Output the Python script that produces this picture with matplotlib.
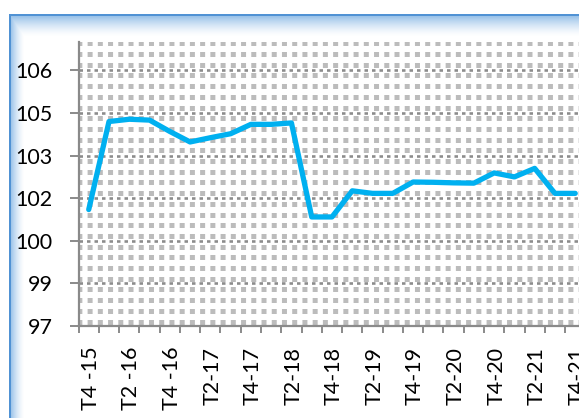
import numpy as np
import matplotlib
matplotlib.use('Agg')
import matplotlib.pyplot as plt
import matplotlib.transforms as mtransforms

# quarterly index values
categories = ['T4 -15', 'T1 -16', 'T2 -16', 'T3 -16', 'T4 -16', 'T1-17', 'T2-17',
              'T3-17', 'T4-17', 'T1-18', 'T2-18', 'T3-18', 'T4-18', 'T1-19',
              'T2-19', 'T3-19', 'T4-19', 'T1-20', 'T2-20', 'T3-20', 'T4-20',
              'T1-21', 'T2-21', 'T3-21', 'T4-21']
values = [101.1, 104.2, 104.28, 104.25, 103.85, 103.48, 103.63, 103.77, 104.1,
          104.1, 104.15, 100.84, 100.84, 101.76, 101.67, 101.67, 102.07, 102.06,
          102.04, 102.03, 102.39, 102.25, 102.55, 101.67, 101.67]
yticks = [97, 98.5, 100, 101.5, 103, 104.5, 106]
ytick_labels = ['97', '99', '100', '102', '103', '105', '106']

plt.rcParams['font.family'] = ['Lato', 'DejaVu Sans']
plt.rcParams['lines.scale_dashes'] = False

W, H = 579, 418
fig = plt.figure(figsize=(W / 100, H / 100), dpi=100)

# background frame with blue border and soft inner glow
bg = fig.add_axes([0, 0, 1, 1])
bg.axis('off')
xx, yy = np.meshgrid(np.arange(W), np.arange(H))
dx = (xx - 9).astype(float)
dy = (yy - 14).astype(float)
g = np.maximum(np.clip(1 - dx / 15, 0, 1), np.clip(1 - dy / 22, 0, 1)) ** 1.5
glow = np.array([140, 186, 230]) / 255.0
img = np.ones((H, W, 3)) * (1 - g[..., None]) + glow * g[..., None]
outside = (dx < 0) | (dy < 0)
img[outside] = 1.0
edge = ((dx >= 0) & (dx < 2) & (dy >= 0)) | ((dy >= 0) & (dy < 2) & (dx >= 0))
img[edge] = np.array([80, 146, 212]) / 255.0
bg.imshow(img, extent=(0, W, H, 0), aspect='auto', interpolation='nearest')
bg.set_xlim(0, W)
bg.set_ylim(H, 0)

# plot area (runs past the right edge, like the cropped original)
left, top, bottom = 78.6, 42, 326
cat_w = 20.27
ax_w = cat_w * len(categories)
ax = fig.add_axes([left / W, (H - bottom) / H, ax_w / W, (bottom - top) / H])
ax.set_facecolor('white')

x = np.arange(len(categories))
ax.set_xlim(-0.5, len(categories) - 0.5)
ax.set_ylim(97, 107)

# dotted pattern fill of the plot area
px = 0.72
plot_h = bottom - top
rows = np.arange(1.3, plot_h, 10.7)
for r in rows:
    ax.plot([0, 1], [1 - r / plot_h] * 2, transform=ax.transAxes, color='#bcbcbc',
            lw=5 * px, linestyle=(2.13 * px, (5 * px, 5.23 * px)),
            dash_capstyle='butt', zorder=0.5)

# major gridlines
for t in yticks:
    ax.axhline(t, color='#8c8c8c', lw=2.6 * px, linestyle=(0, (3.5 * px, 4 * px)),
               dash_capstyle='butt', zorder=0.8)

ax.plot(x, values, color='#00b0f0', lw=3.8, solid_joinstyle='round',
        solid_capstyle='round', zorder=3)

for s in ['top', 'right']:
    ax.spines[s].set_visible(False)
for s in ['left', 'bottom']:
    ax.spines[s].set_color('#8a8a8a')
    ax.spines[s].set_linewidth(1.6)

ax.set_yticks(yticks)
ax.set_yticklabels(ytick_labels)
ax.tick_params(axis='y', direction='out', length=6.5, width=1.4, color='#8a8a8a',
               labelsize=15.5, pad=12)

ax.set_xticks(x[::2])
ax.set_xticklabels(categories[::2], rotation=90)
ax.set_xticks(np.arange(-0.5, len(categories), 1), minor=True)
ax.tick_params(axis='x', which='major', length=0, labelsize=15.5, pad=15)
ax.tick_params(axis='x', which='minor', direction='out', length=5, width=1.4,
               color='#8a8a8a')
shift = mtransforms.ScaledTranslation(2 / 100, 0, fig.dpi_scale_trans)
for lab in ax.get_xticklabels():
    lab.set_transform(lab.get_transform() + shift)

fig.savefig('out.png', dpi=100)
